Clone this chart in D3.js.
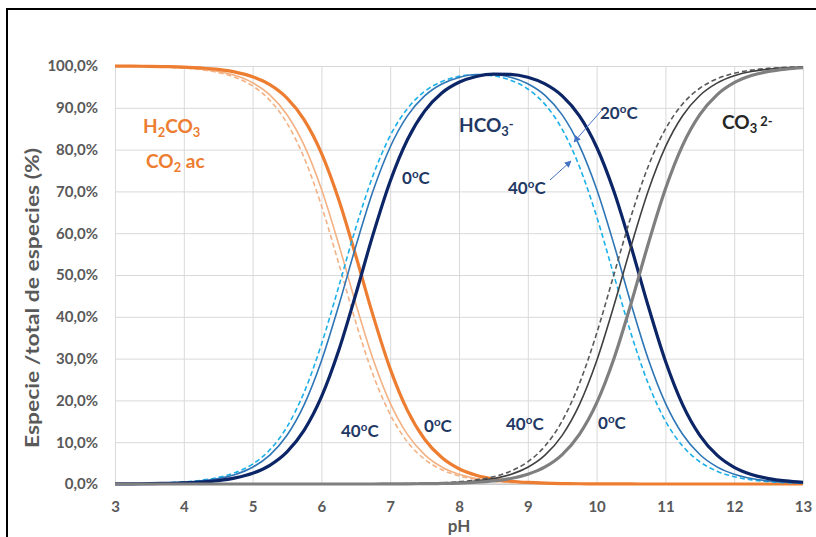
<!DOCTYPE html>
<html>
<head>
<meta charset="utf-8">
<script src="https://cdn.jsdelivr.net/npm/d3@7.9.0/dist/d3.min.js"></script>
<style>
  html, body { margin: 0; padding: 0; background: #fff; }
  svg { display: block; font-family: Lato, "Noto Sans", sans-serif; }
</style>
</head>
<body>
<svg id="chart" width="816" height="537"></svg>
<script>
// pH grid shared by every series
const pH = [3, 3.25, 3.5, 3.75, 4, 4.25, 4.5, 4.75, 5, 5.25, 5.5, 5.75, 6, 6.25, 6.5, 6.75,
  7, 7.25, 7.5, 7.75, 8, 8.25, 8.5, 8.75, 9, 9.25, 9.5, 9.75, 10, 10.25, 10.5, 10.75,
  11, 11.25, 11.5, 11.75, 12, 12.25, 12.5, 12.75, 13];

// H2CO3 / CO2 ac (%)
const h2co3_0 = [99.97, 99.95, 99.92, 99.85, 99.74, 99.53, 99.18, 98.54, 97.44, 95.53, 92.32, 87.12,
  79.18, 68.13, 54.59, 40.34, 27.54, 17.61, 10.72, 6.33, 3.65, 2.08, 1.18, 0.66, 0.37,
  0.2, 0.11, 0.06, 0.03, 0.02, 0.01, 0, 0, 0, 0, 0, 0, 0, 0, 0, 0];
const h2co3_20 = [99.96, 99.93, 99.87, 99.77, 99.58, 99.26, 98.70, 97.71, 96.00, 93.10, 88.35, 81.01,
  70.58, 57.43, 43.14, 29.90, 19.34, 11.88, 7.04, 4.08, 2.33, 1.32, 0.74, 0.42, 0.23,
  0.13, 0.07, 0.04, 0.02, 0.01, 0.01, 0, 0, 0, 0, 0, 0, 0, 0, 0, 0];
const h2co3_40 = [99.95, 99.91, 99.84, 99.72, 99.50, 99.12, 98.44, 97.26, 95.23, 91.82, 86.32, 78.02,
  66.61, 52.87, 38.68, 26.19, 16.63, 10.08, 5.92, 3.42, 1.95, 1.10, 0.62, 0.34, 0.19,
  0.10, 0.05, 0.03, 0.02, 0.01, 0, 0, 0, 0, 0, 0, 0, 0, 0, 0, 0];

// HCO3- (%)
const hco3_0 = [0.03, 0.05, 0.08, 0.15, 0.26, 0.47, 0.82, 1.46, 2.56, 4.47, 7.68, 12.88, 20.82, 31.87,
  45.41, 59.66, 72.44, 82.36, 89.21, 93.55, 96.11, 97.50, 98.08, 98.01, 97.30,
  95.71, 92.85, 88.06, 80.63, 70.09, 56.86, 42.57, 29.42, 18.99, 11.65, 6.90, 4.00, 2.29, 1.30, 0.74, 0.42];
const hco3_20 = [0.04, 0.07, 0.13, 0.23, 0.42, 0.74, 1.30, 2.29, 4.00, 6.90, 11.65, 18.99, 29.42, 42.57,
  56.86, 70.08, 80.63, 88.06, 92.84, 95.69, 97.26, 97.95, 97.96, 97.30, 95.77,
  92.98, 88.30, 80.96, 70.57, 57.43, 43.14, 29.90, 19.35, 11.89, 7.05, 4.09, 2.34, 1.33, 0.75, 0.42, 0.24];
const hco3_40 = [0.05, 0.09, 0.16, 0.28, 0.50, 0.88, 1.56, 2.74, 4.77, 8.18, 13.68, 21.98, 33.39, 47.13,
  61.31, 73.79, 83.33, 89.83, 93.91, 96.28, 97.51, 97.92, 97.65, 96.60, 94.50,
  90.82, 84.86, 75.95, 64.00, 50.00, 36.00, 24.03, 15.10, 9.09, 5.32, 3.07, 1.75, 0.99, 0.56, 0.32, 0.18];

// CO3 2- (%)
const co3_0 = [0, 0, 0, 0, 0, 0, 0, 0, 0, 0, 0, 0, 0, 0, 0, 0,
  0.02, 0.04, 0.07, 0.13, 0.23, 0.42, 0.74, 1.32, 2.33,
  4.08, 7.04, 11.88, 19.34, 29.90, 43.13, 57.43, 70.58, 81.01, 88.35, 93.10, 96.00, 97.71, 98.70, 99.26, 99.58];
const co3_20 = [0, 0, 0, 0, 0, 0, 0, 0, 0, 0, 0, 0, 0, 0, 0,
  0.02, 0.03, 0.07, 0.12, 0.22, 0.41, 0.73, 1.29, 2.28, 3.99,
  6.89, 11.64, 18.98, 29.42, 42.57, 56.86, 70.10, 80.65, 88.11, 92.95, 95.91, 97.66, 98.67, 99.25, 99.58, 99.76];
const co3_40 = [0, 0, 0, 0, 0, 0, 0, 0, 0, 0, 0, 0, 0, 0,
  0.01, 0.02, 0.05, 0.09, 0.17, 0.30, 0.55, 0.98, 1.74, 3.05, 5.31,
  9.08, 15.09, 24.02, 35.99, 50.00, 64.00, 75.97, 84.90, 90.91, 94.68, 96.93, 98.25, 99.01, 99.44, 99.68, 99.82];

const xTicks = [3, 4, 5, 6, 7, 8, 9, 10, 11, 12, 13];
const yTicks = [0, 10, 20, 30, 40, 50, 60, 70, 80, 90, 100];

// draw order: dashed 40 °C, thin 20 °C, thick 0 °C
const series = [
  { values: h2co3_40, color: '#F4B183', width: 1.6, dash: '5,3' },
  { values: h2co3_20, color: '#F4B183', width: 1.6, dash: null },
  { values: h2co3_0, color: '#ED7D31', width: 3.2, dash: null },
  { values: hco3_40, color: '#1CB0EA', width: 1.6, dash: '5,3' },
  { values: hco3_20, color: '#2E75B6', width: 1.6, dash: null },
  { values: hco3_0, color: '#0B2566', width: 3.2, dash: null },
  { values: co3_40, color: '#595959', width: 1.6, dash: '5,3' },
  { values: co3_20, color: '#404040', width: 1.6, dash: null },
  { values: co3_0, color: '#7F7F7F', width: 3.2, dash: null },
];

const svg = d3.select('#chart');
const plotLeft = 115, plotRight = 803, plotTop = 66, plotBottom = 484;

const x = d3.scaleLinear().domain([3, 13]).range([plotLeft, plotRight]);
const y = d3.scaleLinear().domain([0, 100]).range([plotBottom, plotTop]);

// outer frame (cut off at right and bottom like the screenshot)
svg.append('rect')
  .attr('x', 7).attr('y', 9)
  .attr('width', 830).attr('height', 560)
  .attr('fill', 'none').attr('stroke', '#000').attr('stroke-width', 2);

// gridlines
svg.append('g')
  .attr('transform', `translate(0,${plotBottom})`)
  .call(d3.axisBottom(x).tickValues(xTicks).tickSize(-(plotBottom - plotTop)).tickFormat(''))
  .call(g => g.select('.domain').remove())
  .call(g => g.selectAll('line').attr('stroke', '#D9D9D9'));
svg.append('g')
  .attr('transform', `translate(${plotLeft},0)`)
  .call(d3.axisLeft(y).tickValues(yTicks).tickSize(-(plotRight - plotLeft)).tickFormat(''))
  .call(g => g.select('.domain').remove())
  .call(g => g.selectAll('line').attr('stroke', '#D9D9D9'));

// axis line
svg.append('line')
  .attr('x1', plotLeft).attr('x2', plotRight).attr('y1', plotBottom).attr('y2', plotBottom)
  .attr('stroke', '#BFBFBF');

// tick labels
svg.append('g')
  .attr('transform', `translate(0,${plotBottom})`)
  .call(d3.axisBottom(x).tickValues(xTicks).tickSize(0).tickPadding(17).tickFormat(d3.format('d')))
  .call(g => g.select('.domain').remove())
  .call(g => g.selectAll('text')
    .attr('fill', '#595959').style('font-size', '15px').style('font-weight', 'bold')
    .style('font-family', 'Lato, sans-serif'));
svg.append('g')
  .attr('transform', `translate(${plotLeft},0)`)
  .call(d3.axisLeft(y).tickValues(yTicks).tickSize(0).tickPadding(17)
    .tickFormat(d => d.toFixed(1).replace('.', ',') + '%'))
  .call(g => g.select('.domain').remove())
  .call(g => g.selectAll('text')
    .attr('fill', '#595959').style('font-size', '15px').style('font-weight', 'bold')
    .style('font-family', 'Lato, sans-serif'));

// axis titles
svg.append('text')
  .attr('transform', 'translate(39,298) rotate(-90)')
  .attr('text-anchor', 'middle')
  .attr('fill', '#595959').attr('font-size', 18.5).attr('font-weight', 'bold')
  .attr('textLength', 300).attr('lengthAdjust', 'spacingAndGlyphs')
  .text('Especie /total de especies (%)');
svg.append('text')
  .attr('x', 459).attr('y', 532)
  .attr('text-anchor', 'middle')
  .attr('fill', '#595959').attr('font-size', 17).attr('font-weight', 'bold')
  .text('pH');

// curves
const line = d3.line()
  .x((d, i) => x(pH[i]))
  .y(d => y(d))
  .curve(d3.curveMonotoneX);

svg.append('g')
  .selectAll('path')
  .data(series)
  .join('path')
  .attr('d', d => line(d.values))
  .attr('fill', 'none')
  .attr('stroke', d => d.color)
  .attr('stroke-width', d => d.width)
  .attr('stroke-dasharray', d => d.dash)
  .attr('stroke-linejoin', 'round');

// annotations
const labels = svg.append('g').attr('font-weight', 'bold');

function chem(px, py, size, color, parts) {
  const t = labels.append('text').attr('x', px).attr('y', py)
    .attr('font-size', size).attr('fill', color);
  parts.forEach(p => {
    const s = t.append('tspan').text(p.t);
    if (p.sub) s.attr('font-size', size * 0.68).attr('dy', size * 0.22);
    if (p.sup) s.attr('font-size', size * 0.68).attr('dy', -size * 0.38);
    if (p.shift) s.attr('dy', p.shift);
  });
}

function temp(px, py, value, color) {
  chem(px, py, 17, color, [
    { t: value }, { t: 'o', sup: true }, { t: 'C', shift: 17 * 0.38 }
  ]);
}

chem(143, 133, 19, '#ED7D31', [
  { t: 'H' }, { t: '2', sub: true }, { t: 'CO', shift: -19 * 0.22 }, { t: '3', sub: true }
]);
chem(146, 168, 19, '#ED7D31', [
  { t: 'CO' }, { t: '2', sub: true }, { t: ' ac', shift: -19 * 0.22 }
]);
chem(459, 132, 19, '#1F3864', [
  { t: 'HCO' }, { t: '3', sub: true }, { t: '-', sup: true }
]);
chem(722, 129, 19, '#262626', [
  { t: 'CO' }, { t: '3', sub: true }, { t: ' 2-', sup: true }
]);

const navy = '#1F3864';
temp(402, 184, '0', navy);
temp(508, 194, '40', navy);
temp(600, 119, '20', navy);
temp(341, 437, '40', navy);
temp(424, 432, '0', navy);
temp(506, 430, '40', navy);
temp(598, 429, '0', navy);

// arrows to the 20 °C and 40 °C HCO3- curves
svg.append('defs').append('marker')
  .attr('id', 'arrow')
  .attr('viewBox', '0 0 10 10')
  .attr('refX', 9).attr('refY', 5)
  .attr('markerWidth', 7).attr('markerHeight', 7)
  .attr('orient', 'auto')
  .append('path')
  .attr('d', 'M0,0 L10,5 L0,10 z')
  .attr('fill', '#4472C4');

svg.append('line')
  .attr('x1', 601).attr('y1', 111).attr('x2', 574).attr('y2', 142)
  .attr('stroke', '#4472C4').attr('stroke-width', 1)
  .attr('marker-end', 'url(#arrow)');
svg.append('line')
  .attr('x1', 550).attr('y1', 180).attr('x2', 571).attr('y2', 161)
  .attr('stroke', '#4472C4').attr('stroke-width', 1)
  .attr('marker-end', 'url(#arrow)');
</script>
</body>
</html>
